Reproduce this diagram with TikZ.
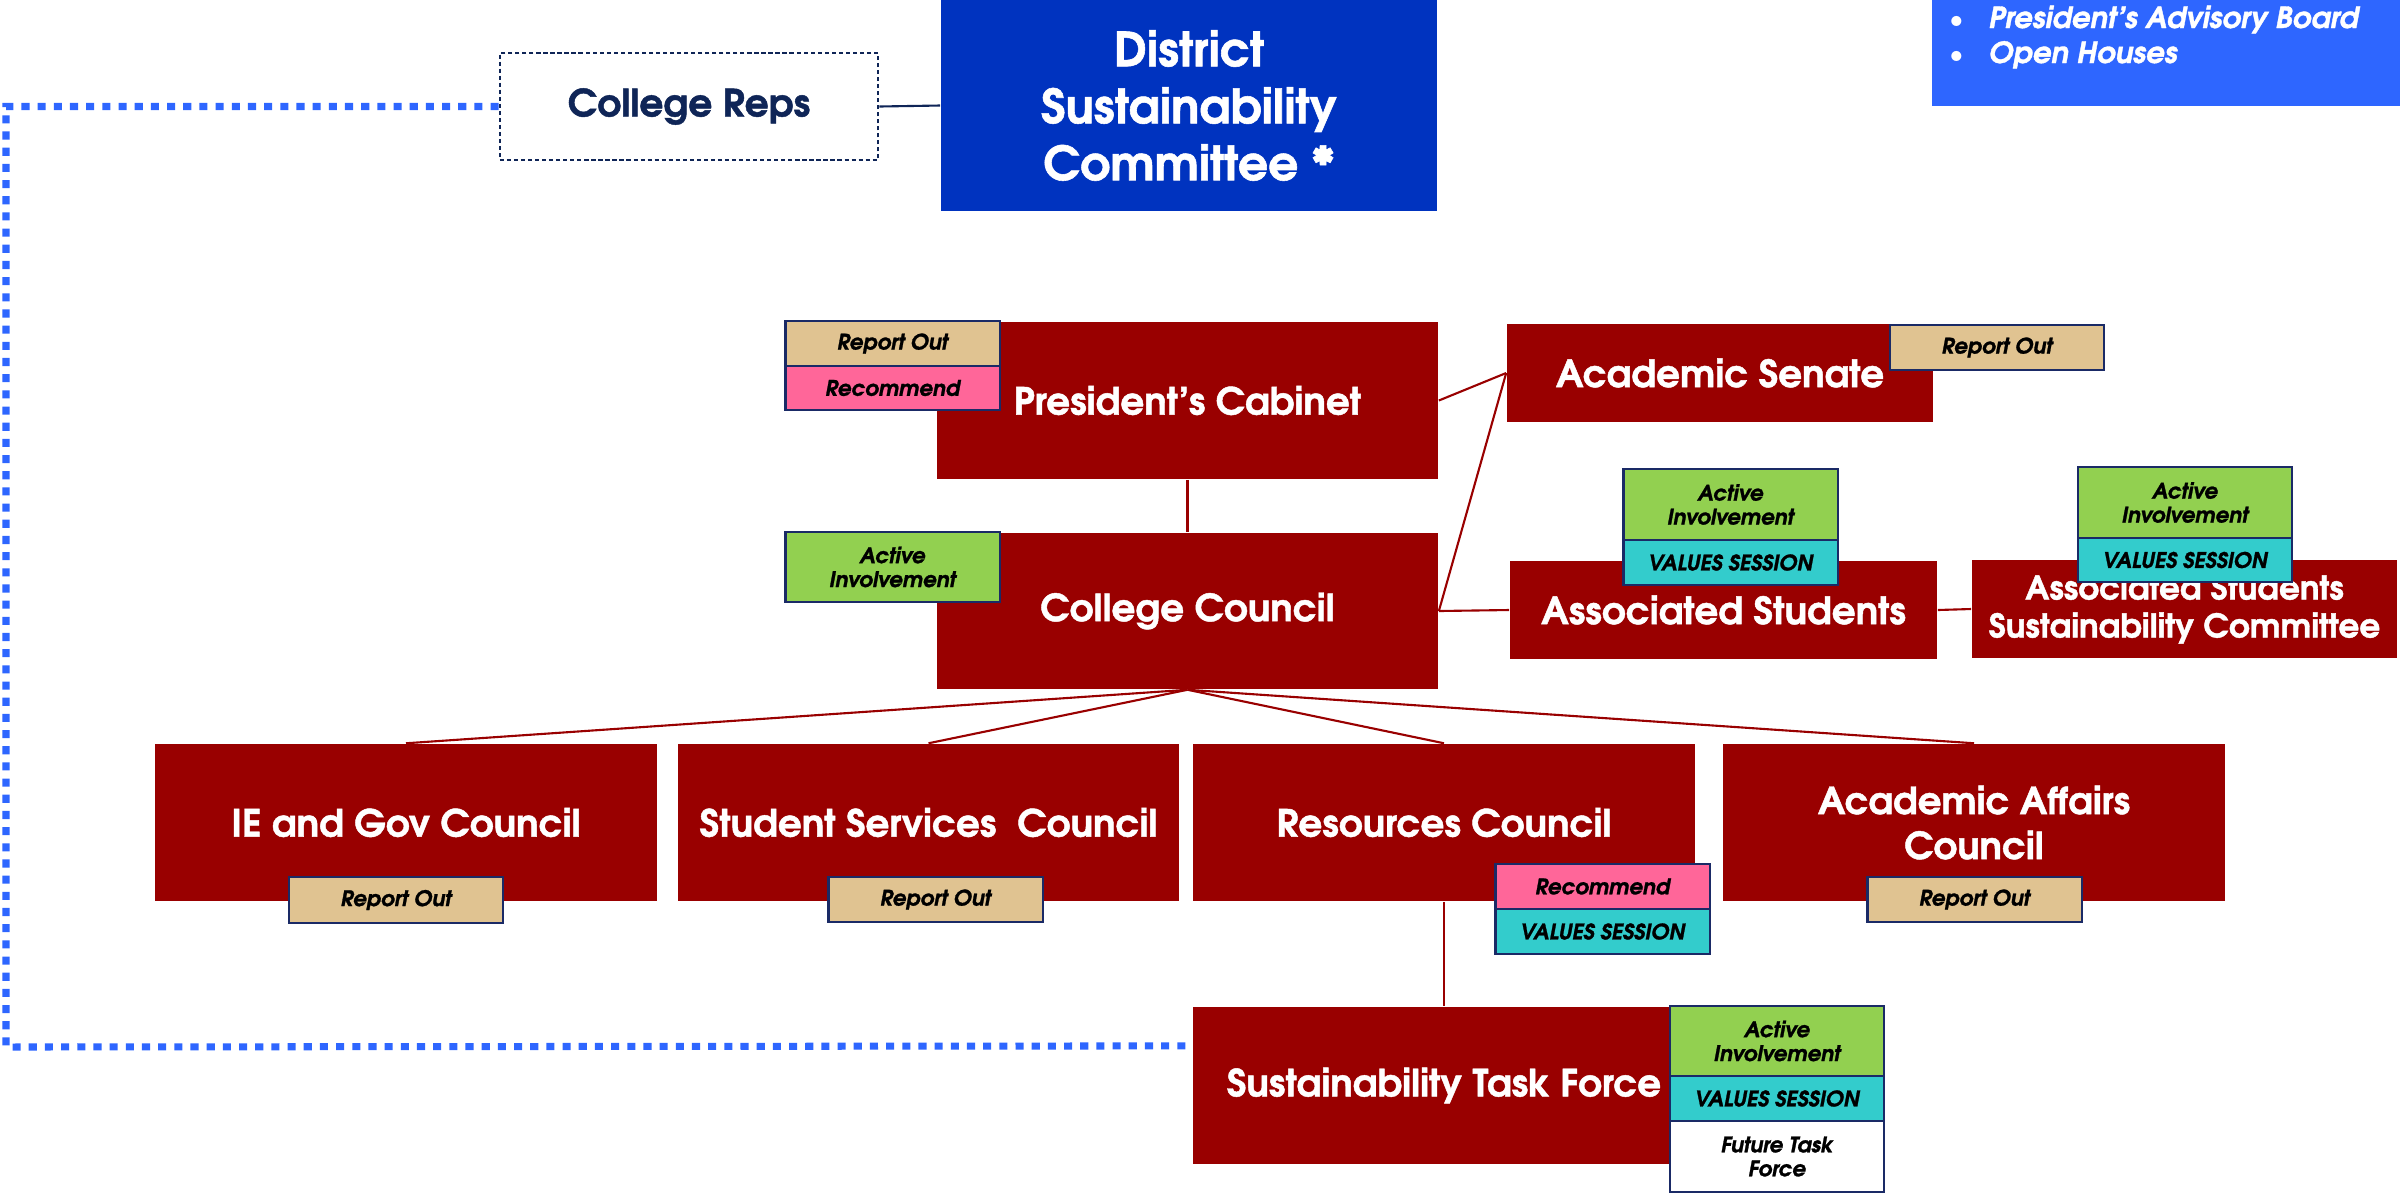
\documentclass[tikz,border=0pt]{standalone}
\usepackage{fontspec}
\setmainfont{TeX Gyre Adventor}[BoldFeatures={FakeBold=1.2}, BoldItalicFeatures={FakeBold=1.2}]
\usetikzlibrary{calc}
\definecolor{dred}{HTML}{990000}
\definecolor{dblue}{HTML}{0033BF}
\definecolor{advblue}{HTML}{2E66FF}
\definecolor{navy}{HTML}{0F2557}
\definecolor{tagnavy}{HTML}{1A2A66}
\definecolor{tan}{HTML}{E0C391}
\definecolor{pink}{HTML}{FF6699}
\definecolor{lgreen}{HTML}{92D050}
\definecolor{cyan}{HTML}{33CCCC}
\pgfdeclarelayer{bg}
\pgfsetlayers{bg,main}
\tikzset{
  redbox/.style={fill=dred, draw=none, text=white, align=center, inner sep=0pt,
    font=\bfseries\fontsize{10.65}{13}\selectfont},
  tagbox/.style={draw=tagnavy, line width=0.6pt, text=black, align=center, inner sep=0pt,
    minimum width=2.14cm, font=\bfseries\itshape\fontsize{6.1}{6.8}\selectfont},
  conn/.style={draw=dred, line width=0.6pt},
  dotline/.style={draw=advblue, line width=2pt, dash pattern=on 2.3pt off 2.3pt},
}
\begin{document}
\begin{tikzpicture}[x=0.01cm,y=-0.01cm]
\useasboundingbox (0,0) rectangle (2400,1196);

% top
\node[redbox, fill=dblue, minimum width=4.96cm, minimum height=2.11cm,
  font=\bfseries\fontsize{13.4}{16.2}\selectfont] (dist) at (1189,105.5) {District\\Sustainability\\Committee *};
\node[draw=navy, line width=0.7pt, dash pattern=on 1.2pt off 0.8pt, fill=white, text=navy,
  minimum width=3.78cm, minimum height=1.07cm, inner sep=0pt,
  font=\bfseries\fontsize{10.7}{12.5}\selectfont] (reps) at (689,106.5) {College Reps};
\node[fill=advblue, minimum width=4.68cm, minimum height=1.06cm, inner sep=0pt] (adv) at (2166,53) {};
\node[anchor=base, text=white, font=\fontsize{8}{10}\selectfont] (b1) at (1957,28) {\textbullet};
\node[anchor=base, text=white, font=\fontsize{8}{10}\selectfont] (b2) at (1957,63) {\textbullet};
\node[anchor=base west, text=white, inner sep=0pt, font=\bfseries\itshape\fontsize{8.3}{10}\selectfont] (t1) at (1988,28) {President’s Advisory Board};
\node[anchor=base west, text=white, inner sep=0pt, font=\bfseries\itshape\fontsize{8.3}{10}\selectfont] (t2) at (1988,63) {Open Houses};

% middle
\node[redbox, minimum width=5.01cm, minimum height=1.57cm] (cab) at (1187.5,400.5) {President’s Cabinet};
\node[redbox, minimum width=5.01cm, minimum height=1.56cm] (cc) at (1187.5,611) {College Council};
\node[redbox, minimum width=4.26cm, minimum height=0.98cm] (sen) at (1720,373) {Academic Senate};
\node[redbox, minimum width=4.27cm, minimum height=0.98cm] (as) at (1723.5,610) {Associated Students};
\node[redbox, minimum width=4.25cm, minimum height=0.98cm,
  font=\bfseries\fontsize{9.3}{10.8}\selectfont] (assc) at (2184.5,609) {Associated Students\\Sustainability Committee};

% bottom row
\node[redbox, minimum width=5.02cm, minimum height=1.57cm] (ie) at (406,822.5) {IE and Gov Council};
\node[redbox, minimum width=5.01cm, minimum height=1.57cm] (ss) at (928.5,822.5) {Student Services\ \ Council};
\node[redbox, minimum width=5.02cm, minimum height=1.57cm] (res) at (1444,822.5) {Resources Council};
\node[redbox, minimum width=5.02cm, minimum height=1.57cm,
  font=\bfseries\fontsize{10.6}{12.8}\selectfont] (aa) at (1974,822.5) {Academic Affairs\\Council};
\node[redbox, minimum width=4.77cm, minimum height=1.57cm] (stf) at (1431.5,1085.5) {\hspace*{0.25cm}Sustainability Task Force};

% tags
\node[tagbox, fill=tan, minimum height=0.45cm] (cabRO) at (892.5,343.5) {Report Out};
\node[tagbox, fill=pink, minimum height=0.44cm] (cabRec) at (892.5,388) {Recommend};
\node[tagbox, fill=lgreen, minimum height=0.70cm] (ccAI) at (892.5,567) {Active\\Involvement};
\node[tagbox, fill=tan, minimum height=0.45cm] (senRO) at (1997,347.5) {Report Out};
\node[tagbox, fill=lgreen, minimum height=0.71cm] (asAI) at (1730.5,504.5) {Active\\Involvement};
\node[tagbox, fill=cyan, minimum height=0.45cm] (asVS) at (1730.5,562.5) {VALUES SESSION};
\node[tagbox, fill=lgreen, minimum height=0.71cm] (asscAI) at (2185,502.5) {Active\\Involvement};
\node[tagbox, fill=cyan, minimum height=0.44cm] (asscVS) at (2185,560) {VALUES SESSION};
\node[tagbox, fill=tan, minimum height=0.46cm] (ieRO) at (396,900) {Report Out};
\node[tagbox, fill=tan, minimum height=0.45cm] (ssRO) at (935.5,899.5) {Report Out};
\node[tagbox, fill=pink, minimum height=0.45cm] (resRec) at (1602.5,886.5) {Recommend};
\node[tagbox, fill=cyan, minimum height=0.45cm] (resVS) at (1602.5,931.5) {VALUES SESSION};
\node[tagbox, fill=tan, minimum height=0.45cm] (aaRO) at (1974.5,899.5) {Report Out};
\node[tagbox, fill=lgreen, minimum height=0.70cm] (stfAI) at (1777,1041) {Active\\Involvement};
\node[tagbox, fill=cyan, minimum height=0.45cm] (stfVS) at (1777,1098.5) {VALUES SESSION};
\node[tagbox, fill=white, minimum height=0.71cm] (stfFT) at (1777,1156.5) {Future Task\\Force};

% connectors
\begin{pgfonlayer}{bg}
\draw[navy, line width=0.6pt] (reps.east) -- (dist.west);
\coordinate (stfin) at ($(stf.north west)!0.25!(stf.south west)$);
\draw[dotline] (reps.west) -| (6,1047) -- (stfin);
\draw[conn] (cab.south) -- (cc.north);
\draw[conn] (cab.east) -- (sen.west);
\draw[conn] (cc.east) -- (sen.west);
\draw[conn] (cc.east) -- (as.west);
\draw[conn] (as.east) -- (assc.west);
\draw[conn] (cc.south) -- (ie.north);
\draw[conn] (cc.south) -- (ss.north);
\draw[conn] (cc.south) -- (res.north);
\draw[conn] (cc.south) -- (aa.north);
\draw[conn] (res.south) -- (res.south |- stf.north);
\end{pgfonlayer}
\end{tikzpicture}
\end{document}
